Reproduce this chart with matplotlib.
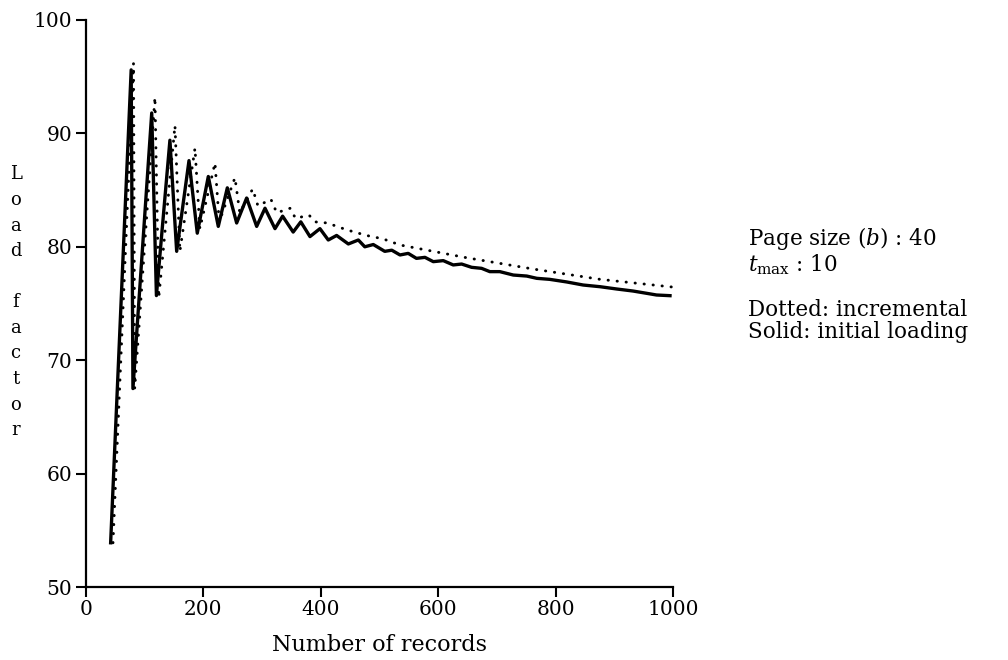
#!/usr/bin/env python
# Load factor against number of records, initial loading vs incremental.
import numpy as np
import matplotlib
matplotlib.use('Agg')
import matplotlib.pyplot as plt

############## DATA ################

# solid line: initial loading (x = records, y = load factor %)
solid_x = [42, 77, 80, 112, 120, 143, 154.5, 175.5, 189.6, 208.4, 225.4, 240.8, 256.7,
           273.7, 290.8, 305, 322, 335, 353, 366, 381.6, 398.6, 412.8, 427, 447, 464,
           475, 489.5, 509, 521, 535, 549, 563, 577.5, 591.7, 608.7, 625.7, 640, 657,
           674, 688, 705, 728, 751, 768, 790, 819, 847, 876, 904, 932, 955, 972, 995]
solid_y = [53.9, 95.6, 67.5, 91.8, 75.7, 89.4, 79.6, 87.6, 81.2, 86.2, 81.8, 85.2, 82.1,
           84.3, 81.8, 83.4, 81.6, 82.7, 81.3, 82.2, 80.9, 81.6, 80.6, 81.0, 80.25, 80.6,
           80.0, 80.2, 79.6, 79.7, 79.28, 79.42, 78.98, 79.07, 78.69, 78.78, 78.40, 78.48, 78.19,
           78.10, 77.81, 77.81, 77.51, 77.42, 77.22, 77.13, 76.90, 76.63, 76.48, 76.28, 76.10, 75.90, 75.75, 75.69]

# dotted line: incremental
dot_x = [46, 81, 83, 117.5, 124, 151.6, 160, 185.7, 194, 219.8, 227, 253.8, 262, 284,
         293, 315, 325, 348, 357, 380, 390, 411, 444, 478, 506, 535, 648, 762, 876, 1003]
dot_y = [53.9, 96.2, 67.5, 93.2, 75.5, 90.7, 79.6, 88.7, 81.6, 87.4, 82.2, 86.1, 83.0, 85.1,
         83.6, 84.2, 83.0, 83.4, 82.5, 82.8, 82.2, 82.1, 81.5, 81.0, 80.7, 80.16, 79.04, 78.04, 77.13, 76.43]

x_ticks = [0, 200, 400, 600, 800, 1000]
y_ticks = [50, 60, 70, 80, 90, 100]

ylabel_text = "Load factor"
note_lines = [r"Page size $(b)$ : 40", r"$t_{\mathrm{max}}$ : 10",
              "Dotted: incremental", "Solid: initial loading"]

############## PLOTTING ################

plt.rcParams['font.family'] = 'DejaVu Serif'
plt.rcParams['mathtext.fontset'] = 'dejavuserif'

fig = plt.figure(figsize=(10.08, 6.6), dpi=100)
ax = fig.add_axes([0.0853, 0.1106, 0.5823, 0.8591])

ax.plot(solid_x, solid_y, color='black', lw=2.4, solid_joinstyle='round')
ax.plot(dot_x, dot_y, color='black', lw=2.1, linestyle=(0, (0.1, 3.0)),
        dash_capstyle='round')

ax.set_xlim(0, 1000)
ax.set_ylim(50, 100)
ax.set_xticks(x_ticks)
ax.set_yticks(y_ticks)

for s in ['top', 'right']:
    ax.spines[s].set_visible(False)
for s in ['left', 'bottom']:
    ax.spines[s].set_linewidth(1.6)

ax.tick_params(axis='both', direction='out', length=7, width=1.5, labelsize=14.5, color='black')
ax.tick_params(axis='y', pad=3)
ax.tick_params(axis='x', pad=2)

ax.set_xlabel("Number of records", fontsize=16, labelpad=11)

# stacked vertical y label, one letter per row
fig.text(0.0155, 0.542, "\n".join(ylabel_text), fontsize=13,
         ha='center', va='center', linespacing=1.54)

# notes on the right
fig.text(0.742, 1 - 245 / 660, note_lines[0], fontsize=15.5, va='baseline')
fig.text(0.742, 1 - 271 / 660, note_lines[1], fontsize=15.5, va='baseline')
fig.text(0.742, 1 - 316 / 660, note_lines[2], fontsize=15.5, va='baseline')
fig.text(0.742, 1 - 338 / 660, note_lines[3], fontsize=15.5, va='baseline')

plt.savefig('out.png', dpi=100)
